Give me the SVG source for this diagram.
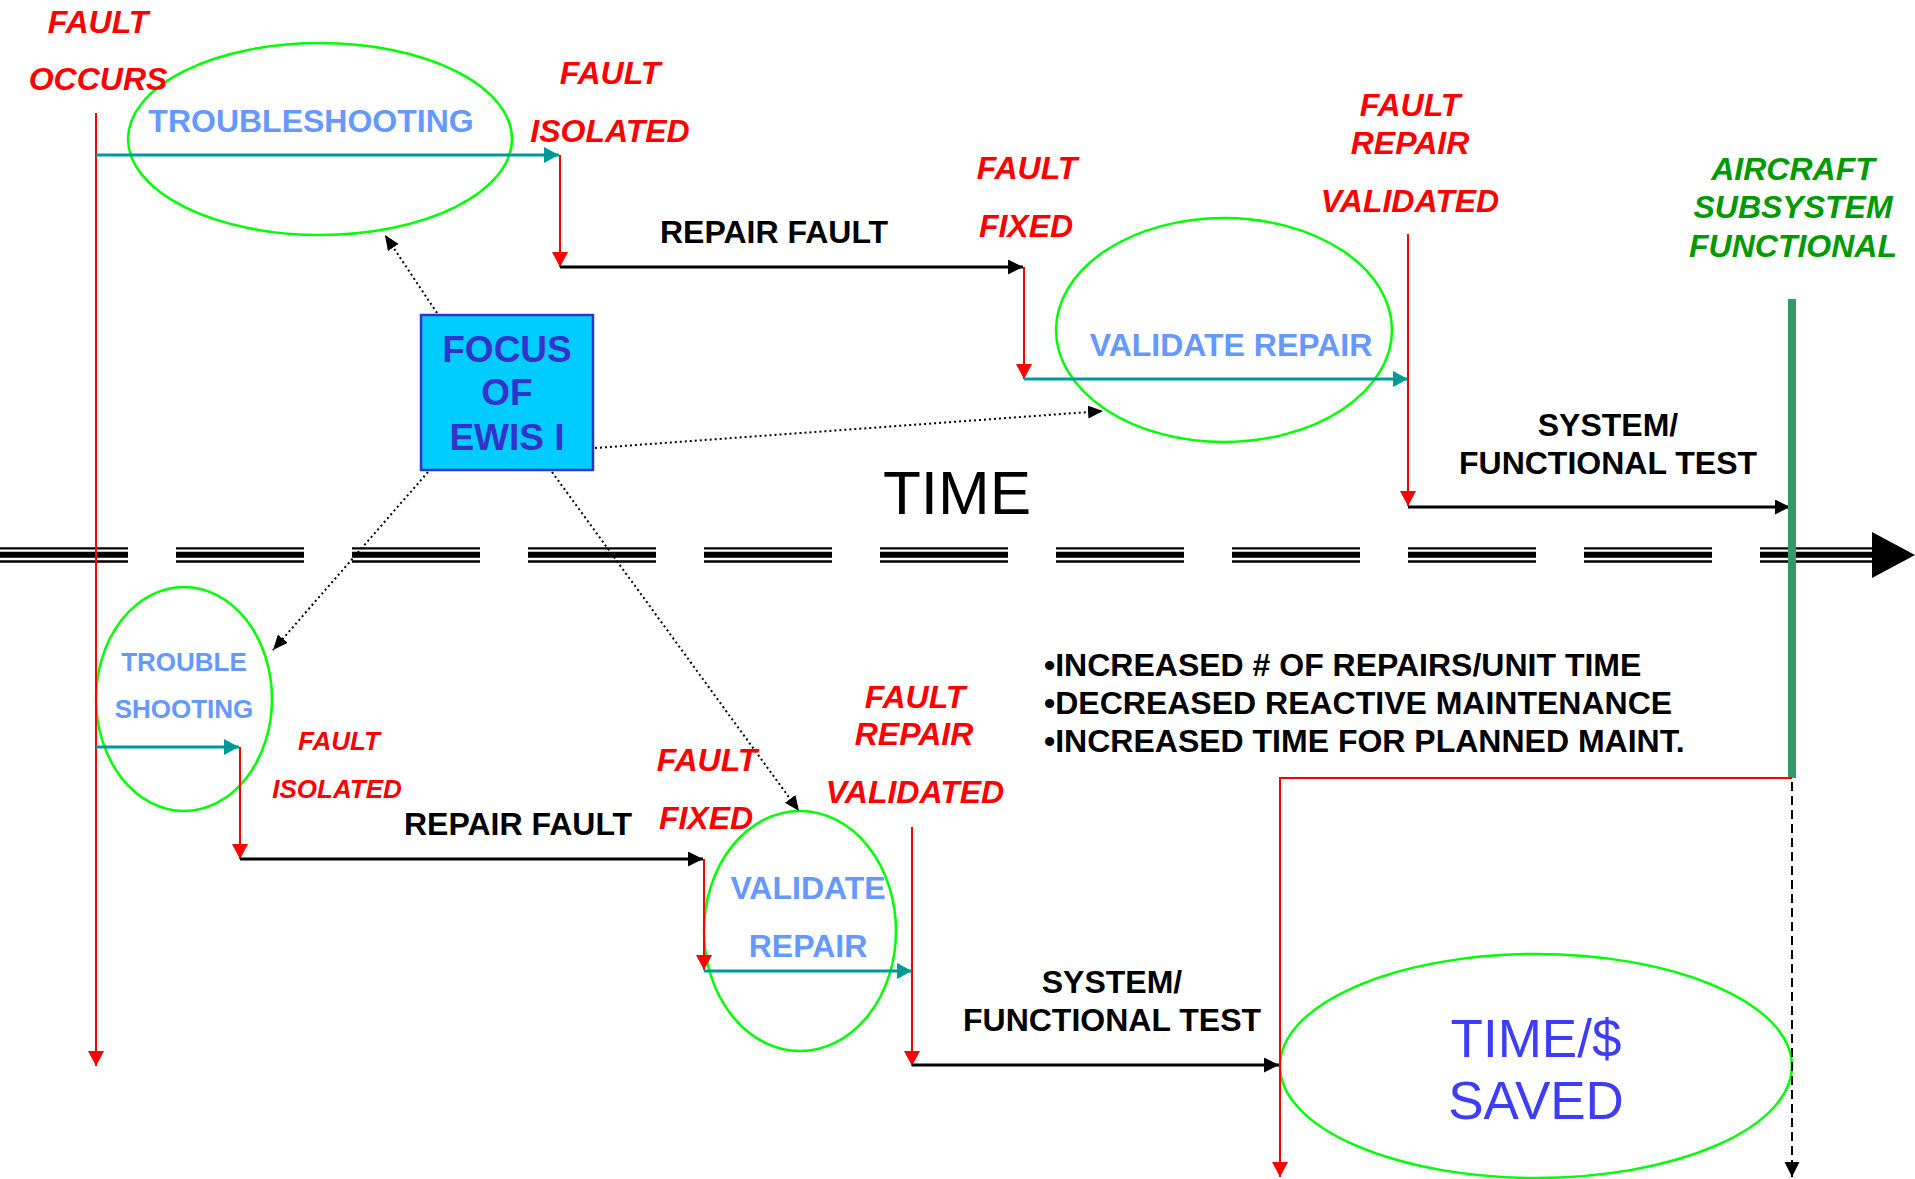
<svg xmlns="http://www.w3.org/2000/svg" width="1915" height="1179" viewBox="0 0 1915 1179">
<defs>
<style>
text{font-family:"Liberation Sans",Arial,sans-serif}
.b{font-weight:bold}
.red{fill:#FF0000;font-weight:bold;font-style:italic;font-size:32px;text-anchor:middle}
.reds{fill:#FF0000;font-weight:bold;font-style:italic;font-size:26px;text-anchor:middle}
.blk{fill:#000;font-weight:bold;font-size:32px}
.lb{fill:#6699FF;font-weight:bold;font-size:32px;text-anchor:middle}
.lbs{fill:#6699FF;font-weight:bold;font-size:26px;text-anchor:middle}
.grn{fill:#009900;font-weight:bold;font-style:italic;font-size:32px;text-anchor:middle}
.ell{fill:none;stroke:#00FF00;stroke-width:2.5}
.rl{stroke:#FF0000;stroke-width:2;fill:none}
.tl{stroke:#009999;stroke-width:3;fill:none}
.kl{stroke:#000;stroke-width:3;fill:none}
.dl{stroke:#000;stroke-width:2;stroke-dasharray:2 3;fill:none}
.ax{stroke:#000;fill:none;stroke-dasharray:128 48}
</style>
<marker id="mr" markerUnits="userSpaceOnUse" markerWidth="16" markerHeight="16" refX="15" refY="8" orient="auto"><path d="M0,0 L15,8 L0,16 Z" fill="#FF0000"/></marker>
<marker id="mt" markerUnits="userSpaceOnUse" markerWidth="16" markerHeight="16" refX="15" refY="8" orient="auto"><path d="M0,0 L15,8 L0,16 Z" fill="#009999"/></marker>
<marker id="mk" markerUnits="userSpaceOnUse" markerWidth="16" markerHeight="16" refX="15" refY="7.5" orient="auto"><path d="M0,0 L15,7.5 L0,15 Z" fill="#000"/></marker>
<marker id="md" markerUnits="userSpaceOnUse" markerWidth="16" markerHeight="14" refX="15" refY="6.5" orient="auto"><path d="M0,0 L15,6.5 L0,13 Z" fill="#000"/></marker>
</defs>
<rect width="1915" height="1179" fill="#FFFFFF"/>

<g id="time-axis">
<line class="ax" x1="0" y1="548.3" x2="1873" y2="548.3" stroke-width="2.2"/>
<line class="ax" x1="0" y1="554.7" x2="1873" y2="554.7" stroke-width="6"/>
<line class="ax" x1="0" y1="561.5" x2="1873" y2="561.5" stroke-width="2.4"/>
<polygon points="1872,532 1915,555 1872,578" fill="#000"/>
<text x="883" y="514" font-size="62" fill="#000">TIME</text>
</g>

<g id="top-troubleshooting">
<ellipse class="ell" cx="320" cy="139" rx="192" ry="96"/>
<text class="lb" x="311" y="132">TROUBLESHOOTING</text>
</g>
<g id="top-validate-repair">
<ellipse class="ell" cx="1224" cy="330" rx="168" ry="112"/>
<text class="lb" x="1231" y="356">VALIDATE REPAIR</text>
</g>
<g id="bottom-troubleshooting">
<ellipse class="ell" cx="184" cy="699" rx="88" ry="112"/>
<text class="lbs" x="184" y="671">TROUBLE</text>
<text class="lbs" x="184" y="718">SHOOTING</text>
</g>
<g id="bottom-validate-repair">
<ellipse class="ell" cx="800" cy="931" rx="96" ry="120"/>
<text class="lb" x="808" y="899">VALIDATE</text>
<text class="lb" x="808" y="957">REPAIR</text>
</g>
<g id="time-saved">
<ellipse class="ell" cx="1536" cy="1066" rx="256" ry="112"/>
<text x="1536" y="1057" font-size="53" fill="#3D3DF5" text-anchor="middle">TIME/$</text>
<text x="1536" y="1119" font-size="53" fill="#3D3DF5" text-anchor="middle">SAVED</text>
</g>
<g id="focus">
<rect x="421" y="315" width="172" height="155" fill="#00CCFF" stroke="#3333CC" stroke-width="2.5"/>
<text x="507" y="362" font-size="37" fill="#3333CC" class="b" text-anchor="middle">FOCUS</text>
<text x="507" y="405" font-size="37" fill="#3333CC" class="b" text-anchor="middle">OF</text>
<text x="507" y="450" font-size="37" fill="#3333CC" class="b" text-anchor="middle">EWIS I</text>
</g>

<g id="connectors">
<line class="rl" x1="96" y1="113" x2="96" y2="1066" marker-end="url(#mr)"/>
<line class="tl" x1="96" y1="155" x2="559" y2="155" marker-end="url(#mt)"/>
<line class="rl" x1="560" y1="155" x2="560" y2="267" marker-end="url(#mr)"/>
<line class="kl" x1="560" y1="267" x2="1023" y2="267" marker-end="url(#mk)"/>
<line class="rl" x1="1024" y1="267" x2="1024" y2="379" marker-end="url(#mr)"/>
<line class="tl" x1="1024" y1="379" x2="1408" y2="379" marker-end="url(#mt)"/>
<line class="rl" x1="1408" y1="234" x2="1408" y2="506" marker-end="url(#mr)"/>
<line class="kl" x1="1408" y1="507" x2="1790" y2="507" marker-end="url(#mk)"/>
<line x1="1792" y1="299" x2="1792" y2="778" stroke="#339966" stroke-width="8"/>
<polyline class="rl" points="1792,778 1280,778 1280,1177" marker-end="url(#mr)"/>
<line x1="1792" y1="782" x2="1792" y2="1177" stroke="#000" stroke-width="2" stroke-dasharray="9 5" marker-end="url(#mk)"/>

<line class="tl" x1="96" y1="747" x2="239" y2="747" marker-end="url(#mt)"/>
<line class="rl" x1="240" y1="747" x2="240" y2="859" marker-end="url(#mr)"/>
<line class="kl" x1="240" y1="859" x2="703" y2="859" marker-end="url(#mk)"/>
<line class="rl" x1="704" y1="859" x2="704" y2="970" marker-end="url(#mr)"/>
<line class="tl" x1="704" y1="971" x2="912" y2="971" marker-end="url(#mt)"/>
<line class="rl" x1="912" y1="827" x2="912" y2="1066" marker-end="url(#mr)"/>
<line class="kl" x1="912" y1="1065" x2="1279" y2="1065" marker-end="url(#mk)"/>

<line class="dl" x1="437" y1="313" x2="385" y2="235" marker-end="url(#md)"/>
<line class="dl" x1="595" y1="448" x2="1103" y2="411" marker-end="url(#md)"/>
<line class="dl" x1="428" y1="472" x2="273" y2="650" marker-end="url(#md)"/>
<line class="dl" x1="552" y1="472" x2="799" y2="811" marker-end="url(#md)"/>
</g>

<g id="labels">
<text class="red" x="98" y="33">FAULT</text>
<text class="red" x="98" y="90">OCCURS</text>
<text class="red" x="610" y="84">FAULT</text>
<text class="red" x="610" y="142">ISOLATED</text>
<text class="blk" x="660" y="243">REPAIR FAULT</text>
<text class="red" x="1027" y="179">FAULT</text>
<text class="red" x="1026" y="237">FIXED</text>
<text class="red" x="1410" y="116">FAULT</text>
<text class="red" x="1410" y="154">REPAIR</text>
<text class="red" x="1410" y="212">VALIDATED</text>
<text class="blk" x="1608" y="436" text-anchor="middle">SYSTEM/</text>
<text class="blk" x="1608" y="474" text-anchor="middle">FUNCTIONAL TEST</text>
<text class="grn" x="1793" y="180">AIRCRAFT</text>
<text class="grn" x="1793" y="218">SUBSYSTEM</text>
<text class="grn" x="1793" y="257">FUNCTIONAL</text>

<text class="reds" x="339" y="750">FAULT</text>
<text class="reds" x="337" y="798">ISOLATED</text>
<text class="blk" x="404" y="835">REPAIR FAULT</text>
<text class="red" x="707" y="771">FAULT</text>
<text class="red" x="706" y="829">FIXED</text>
<text class="red" x="915" y="708">FAULT</text>
<text class="red" x="914" y="745">REPAIR</text>
<text class="red" x="915" y="803">VALIDATED</text>
<text class="blk" x="1112" y="993" text-anchor="middle">SYSTEM/</text>
<text class="blk" x="1112" y="1031" text-anchor="middle">FUNCTIONAL TEST</text>
<text class="blk" x="1044" y="676">•INCREASED # OF REPAIRS/UNIT TIME</text>
<text class="blk" x="1044" y="714">•DECREASED REACTIVE MAINTENANCE</text>
<text class="blk" x="1044" y="752">•INCREASED TIME FOR PLANNED MAINT.</text>
</g>
</svg>
